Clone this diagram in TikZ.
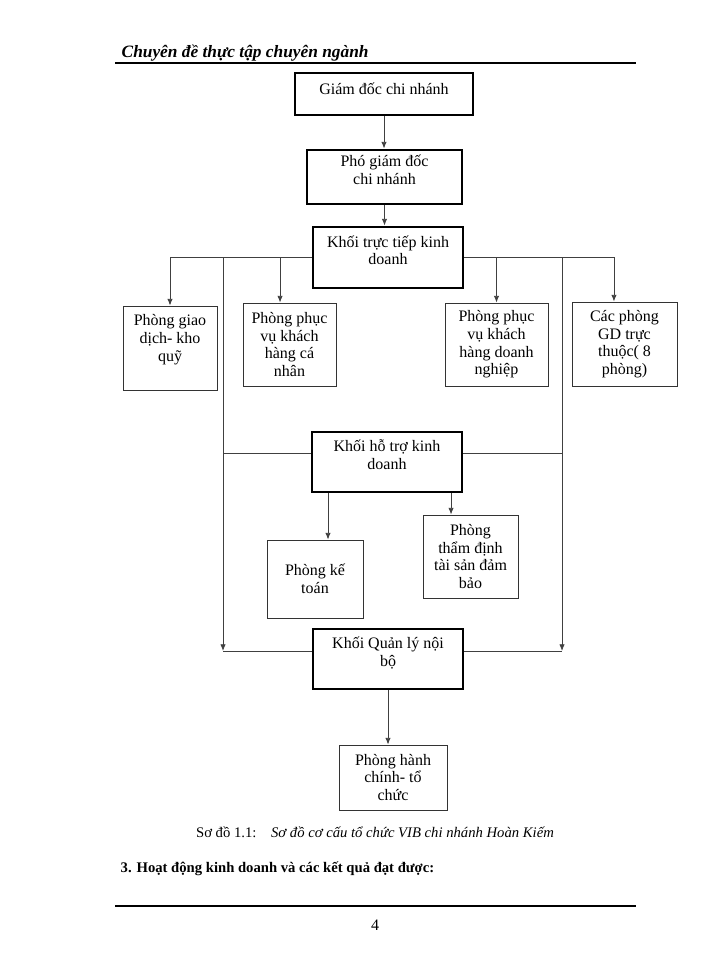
\documentclass[tikz,border=0pt]{standalone}
\usepackage{fontspec}
\setmainfont{Liberation Serif}
\usetikzlibrary{arrows.meta}

\begin{document}
\begin{tikzpicture}[x=0.75pt, y=-0.75pt,
    font=\fontsize{12}{13.2}\selectfont,
    khoi/.style={draw, line width=2.2pt, align=center, inner sep=0pt, text depth=11pt},
    phong/.style={draw=black!80, line width=0.7pt, align=center, inner sep=0pt},
    arr/.style={-{Latex[length=5pt,width=4pt]}, draw=black!75, line width=0.6pt},
    lnk/.style={draw=black!75, line width=0.6pt}]
\useasboundingbox (0,0) rectangle (700,960);

% header
\node[anchor=base west, font=\fontsize{13}{15}\selectfont\bfseries\itshape] (tieude) at (117,57) {Chuyên đề thực tập chuyên ngành};
\draw[line width=1.5pt] (115,63) -- (636,63);

% cac khoi
\node[khoi, text depth=8pt, minimum width=133.5pt, minimum height=31.5pt] (gd) at (384,94) {Giám đốc chi nhánh};
\node[khoi, minimum width=116.25pt, minimum height=40.5pt] (pgd) at (384.5,177) {Phó giám đốc\\ chi nhánh};
\node[khoi, minimum width=112.5pt, minimum height=45.75pt] (tt) at (388,257.5) {Khối trực tiếp kinh\\ doanh};
\node[khoi, minimum width=112.5pt, minimum height=45pt] (ht) at (387,462) {Khối hỗ trợ kinh\\ doanh};
\node[khoi, minimum width=112.5pt, minimum height=45pt] (ql) at (388,659) {Khối Quản lý nội\\ bộ};

% cac phong
\node[phong, text depth=15pt, minimum width=70.5pt, minimum height=63pt] (gdkq) at (170,348) {Phòng giao\\ dịch- kho\\ quỹ};
\node[phong, minimum width=69.75pt, minimum height=62.25pt] (khcn) at (289.5,344.5) {Phòng phục\\ vụ khách\\ hàng cá\\ nhân};
\node[phong, minimum width=77.25pt, minimum height=62.25pt] (khdn) at (496.5,344.5) {Phòng phục\\ vụ khách\\ hàng doanh\\ nghiệp};
\node[phong, minimum width=78.75pt, minimum height=63pt] (gdtt) at (624.5,344) {Các phòng\\ GD trực\\ thuộc( 8\\ phòng)};
\node[phong, minimum width=72pt, minimum height=58.5pt] (kt) at (315,579) {Phòng kế\\ toán};
\node[phong, minimum width=71.25pt, minimum height=62.25pt] (td) at (470.5,556.5) {Phòng\\ thẩm định\\ tài sản đảm\\ bảo};
\node[phong, minimum width=81pt, minimum height=48.75pt] (hc) at (393,777.5) {Phòng hành\\ chính- tổ\\ chức};

\coordinate (trai1) at (223,257.5);
\coordinate (trai2) at (223,651);
\coordinate (trai3) at (223,453);
\coordinate (phai1) at (562,257.5);
\coordinate (phai2) at (562,651);
\coordinate (phai3) at (562,453);

% mui ten
\draw[arr] (gd.south) -- (gd.south |- pgd.north);
\draw[arr] (pgd.south) -- (pgd.south |- tt.north);
\draw[arr] (tt.west) -| (gdkq.north);
\draw[arr] (tt.west) -| ([xshift=-7.1pt]khcn.north);
\draw[arr] (tt.east) -| (khdn.north);
\draw[arr] (tt.east) -| ([xshift=-7.9pt]gdtt.north);
\draw[arr] (trai1) -- (trai2);
\draw[arr] (phai1) -- (phai2);
\draw[lnk] (trai3) -- (trai3 -| ht.west);
\draw[lnk] (ht.east |- phai3) -- (phai3);
\draw[lnk] (trai2) -- (trai2 -| ql.west);
\draw[lnk] (ql.east |- phai2) -- (phai2);
\draw[arr] ([xshift=9.75pt]kt.north |- ht.south) -- ([xshift=9.75pt]kt.north);
\draw[arr] ([xshift=-14.6pt]td.north |- ht.south) -- ([xshift=-14.6pt]td.north);
\draw[arr] (ql.south) -- (ql.south |- hc.north);

% chu thich
\node[font=\fontsize{11}{13}\selectfont] (chuthich) at (375,832) {Sơ đồ 1.1:\quad\textit{Sơ đồ cơ cấu tổ chức VIB chi nhánh Hoàn Kiếm}};
\node[anchor=base west, font=\fontsize{11}{13}\selectfont\bfseries] (muc3) at (116,872) {3. Hoạt động kinh doanh và các kết quả đạt được:};
\draw[line width=1pt] (115,906) -- (636,906);
\node (trang) at (375,925) {4};
\end{tikzpicture}
\end{document}
